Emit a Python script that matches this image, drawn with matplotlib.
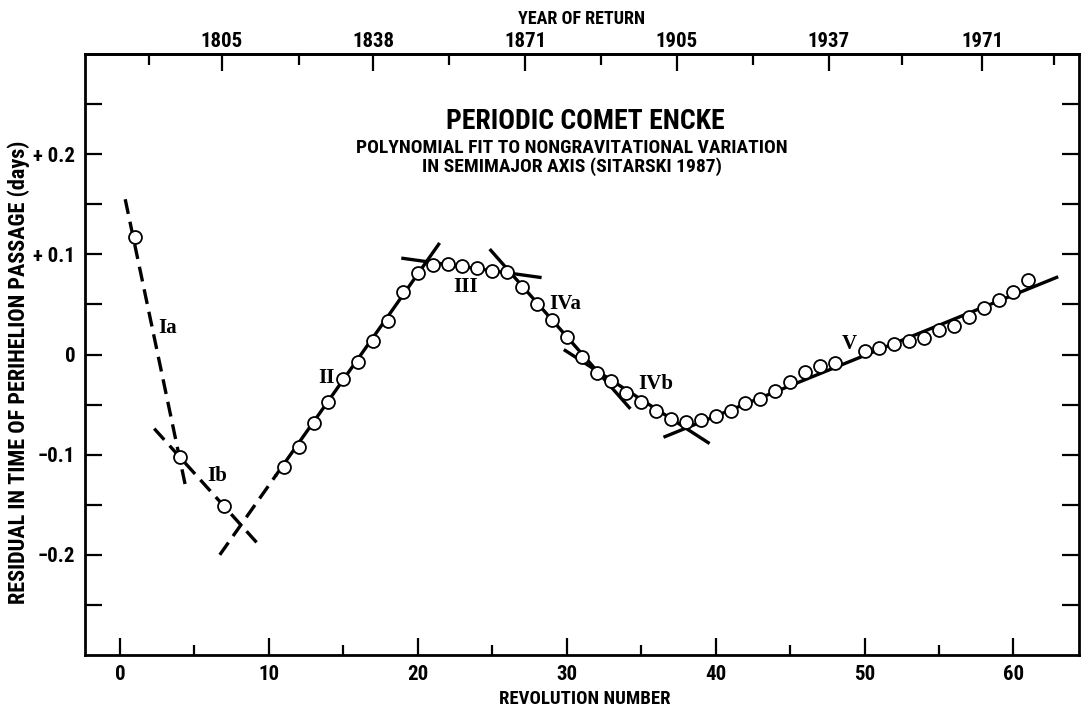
import matplotlib
matplotlib.use('Agg')
import matplotlib.pyplot as plt
from matplotlib.ticker import FixedLocator

plt.rcParams['font.family'] = ['Roboto Condensed', 'Barlow Condensed', 'DejaVu Sans']
plt.rcParams['font.weight'] = 'bold'
SERIF = ['Liberation Serif', 'DejaVu Serif']

# ---- observed residuals ----
revolution = [1, 4, 7, 11, 12, 13, 14, 15, 16, 17, 18, 19, 20, 21, 22, 23, 24, 25,
              26, 27, 28, 29, 30, 31, 32, 33, 34, 35, 36, 37, 38, 39, 40, 41, 42,
              43, 44, 45, 46, 47, 48, 50, 51, 52, 53, 54, 55, 56, 57, 58, 59, 60, 61]
residual = [0.117, -0.102, -0.151, -0.112, -0.092, -0.068, -0.047, -0.024, -0.007,
            0.013, 0.033, 0.062, 0.081, 0.089, 0.090, 0.088, 0.086, 0.083, 0.082,
            0.067, 0.050, 0.034, 0.017, -0.002, -0.018, -0.026, -0.038, -0.047,
            -0.056, -0.064, -0.067, -0.065, -0.061, -0.056, -0.048, -0.044, -0.036,
            -0.027, -0.017, -0.011, -0.008, 0.003, 0.006, 0.010, 0.013, 0.016, 0.024,
            0.028, 0.037, 0.046, 0.054, 0.062, 0.074]

# ---- polynomial fit segments (end points) ----
fit_Ia_rev = [0.35, 4.45]
fit_Ia_res = [0.155, -0.135]
fit_Ib_rev = [2.3, 9.5]
fit_Ib_res = [-0.074, -0.193]
fit_II_dash_rev = [6.7, 10.5]
fit_II_dash_res = [-0.200, -0.120]
fit_II_rev = [10.5, 21.4]
fit_II_res = [-0.120, 0.110]
fit_III_rev = [19.0, 28.2]
fit_III_res = [0.096, 0.077]
fit_IVa_rev = [24.9, 34.2]
fit_IVa_res = [0.104, -0.053]
fit_IVb_rev = [29.9, 39.5]
fit_IVb_res = [0.004, -0.088]
fit_V_rev = [36.6, 62.9]
fit_V_res = [-0.082, 0.077]

seg_labels = ['Ia', 'Ib', 'II', 'III', 'IVa', 'IVb', 'V']
seg_label_rev = [3.2, 6.5, 13.9, 23.2, 29.9, 36.0, 49.0]
seg_label_res = [0.026, -0.121, -0.023, 0.067, 0.050, -0.029, 0.010]

# ---- axis ticks ----
x_major = [0, 10, 20, 30, 40, 50, 60]
x_minor = [5, 15, 25, 35, 45, 55]
y_major = [-0.2, -0.1, 0.0, 0.1, 0.2]
y_major_labels = ['\u22120.2', '\u22120.1', '0', '+ 0.1', '+ 0.2']
y_minor = [-0.25, -0.15, -0.05, 0.05, 0.15, 0.25]
year_rev = [6.85, 17.0, 27.2, 37.4, 47.6, 57.9]
year_labels = ['1805', '1838', '1871', '1905', '1937', '1971']
year_minor_rev = [1.95, 12.0, 22.1, 32.3, 42.5, 52.5, 62.7]

fig = plt.figure(figsize=(10.86, 7.08), dpi=100)
ax = fig.add_axes([85 / 1086, 1 - 655 / 708, 994 / 1086, 601 / 708])

lw = 2.4
dash = (4.5, 2.4)
ax.plot(fit_Ia_rev, fit_Ia_res, color='black', lw=lw, dashes=dash, zorder=2)
ax.plot(fit_Ib_rev, fit_Ib_res, color='black', lw=lw, dashes=dash, zorder=2)
ax.plot(fit_II_dash_rev, fit_II_dash_res, color='black', lw=lw, dashes=dash, zorder=2)
ax.plot(fit_II_rev, fit_II_res, color='black', lw=lw, zorder=2)
ax.plot(fit_III_rev, fit_III_res, color='black', lw=lw, zorder=2)
ax.plot(fit_IVa_rev, fit_IVa_res, color='black', lw=lw, zorder=2)
ax.plot(fit_IVb_rev, fit_IVb_res, color='black', lw=lw, zorder=2)
ax.plot(fit_V_rev, fit_V_res, color='black', lw=lw, zorder=2)

ax.plot(revolution, residual, linestyle='none', marker='o', markersize=9.3,
        markerfacecolor='white', markeredgecolor='black', markeredgewidth=1.3, zorder=3)

for lab, xr, yr in zip(seg_labels, seg_label_rev, seg_label_res):
    ax.text(xr, yr, lab, ha='center', va='center', fontsize=15,
            family=SERIF, fontweight='bold', zorder=4)

ax.set_xlim(-2.35, 64.4)
ax.set_ylim(-0.3, 0.3)

ax.xaxis.set_major_locator(FixedLocator(x_major))
ax.xaxis.set_minor_locator(FixedLocator(x_minor))
ax.set_yticks(y_major, y_major_labels)
ax.yaxis.set_minor_locator(FixedLocator(y_minor))

ax.tick_params(which='both', direction='in', top=False, right=True, width=1.6,
               labelsize=15, pad=7)
ax.tick_params(axis='x', which='major', length=12)
ax.tick_params(axis='x', which='minor', length=7)
ax.tick_params(axis='y', which='both', length=12)

for s in ax.spines.values():
    s.set_linewidth(2.0)

ax.set_xlabel('REVOLUTION NUMBER', fontsize=13.5, fontweight='bold')
ax.xaxis.set_label_coords(0.503, -0.058)
ax.set_ylabel('RESIDUAL IN TIME OF PERIHELION PASSAGE (days)', fontsize=16,
              fontweight='bold')
ax.yaxis.set_label_coords(-0.055, 0.47)

sec = ax.secondary_xaxis('top')
sec.set_xticks(year_rev, year_labels)
sec.xaxis.set_minor_locator(FixedLocator(year_minor_rev))
sec.tick_params(which='both', direction='in', width=1.6, labelsize=15, pad=2)
sec.tick_params(which='major', length=12)
sec.tick_params(which='minor', length=8)
sec.spines['top'].set_linewidth(2.0)
sec.set_xlabel('YEAR OF RETURN', fontsize=13, fontweight='bold', labelpad=6)

ax.text(0.503, 0.8885, 'PERIODIC COMET ENCKE', transform=ax.transAxes,
        ha='center', va='center', fontsize=20, fontweight='bold')
ax.text(0.49, 0.8436, 'POLYNOMIAL FIT TO NONGRAVITATIONAL VARIATION',
        transform=ax.transAxes, ha='center', va='center', fontsize=14, fontweight='bold')
ax.text(0.49, 0.812, 'IN SEMIMAJOR AXIS (SITARSKI 1987)',
        transform=ax.transAxes, ha='center', va='center', fontsize=14, fontweight='bold')

fig.savefig('out.png', dpi=100)
